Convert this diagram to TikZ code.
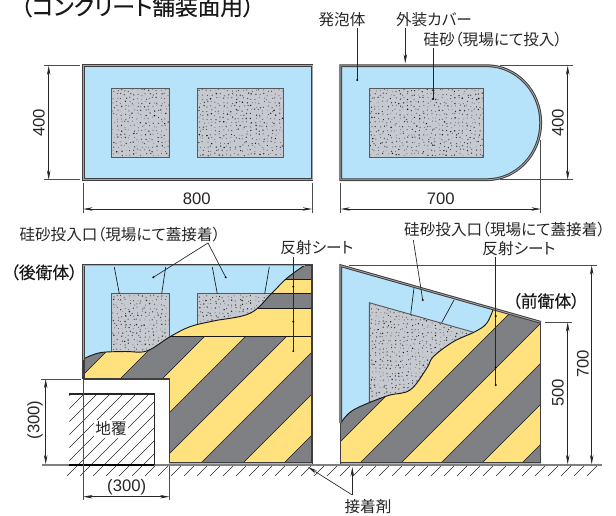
\documentclass[tikz,border=0pt]{standalone}
\usepackage{fontspec}
\setmainfont[RawFeature=+palt]{Noto Sans CJK JP}
\newfontfamily\numfont{Liberation Sans}
\newfontfamily\medfont[FakeBold=0.3,RawFeature=+palt]{Noto Sans CJK JP}
\usetikzlibrary{arrows.meta}
\definecolor{foamblue}{HTML}{B6E3F9}
\definecolor{sheetyellow}{HTML}{FFE17E}
\definecolor{sheetgray}{HTML}{7F8084}
\definecolor{sandgray}{HTML}{C6CAD0}
\definecolor{casedark}{HTML}{3E3E40}
\definecolor{gluecolor}{HTML}{A9B4D6}
\tikzset{
	dimline/.style={draw=black!85,line width=0.5pt,{Stealth[length=7pt,width=2.6pt]}-{Stealth[length=7pt,width=2.6pt]}},
	extline/.style={draw=black!70,line width=0.5pt},
	leader/.style={draw=black!85,line width=0.5pt},
	edgeline/.style={draw=black!90,line width=0.5pt},
	sandedge/.style={draw=black!65,line width=0.7pt},
	label/.style={inner sep=0pt,font=\fontsize{11.7}{11.7}\selectfont,text=black!85},
	numlabel/.style={inner sep=0pt,font=\numfont\fontsize{12.5}{12.5}\selectfont,text=black!85},
	bodylabel/.style={inner sep=0pt,font=\medfont\fontsize{12.6}{12.6}\selectfont,text=black!90}
}
% dots of the sand: corners of the box, then the seed
\newcommand\Sand[5]{
	\pgfmathsetseed{#5}
	\foreach \xa in {#1,\numexpr#1+4\relax,...,#3}
	\foreach \ya in {#2,\numexpr#2+4\relax,...,#4}
	{
		\pgfmathsetmacro\jx{\xa+2.8*rnd}
		\pgfmathsetmacro\jy{\ya+2.8*rnd}
		\pgfmathsetmacro\jr{0.4+0.45*rnd}
		\pgfmathsetmacro\jc{45+50*rnd}
		\fill[black!\jc] (\jx,\jy) circle[radius=\jr*0.75pt];
	}
}
\def\RearWave{plot[smooth,tension=0.6] coordinates {(83.3,359) (100,352.7) (125,351.5) (146.7,351) (170,336.7) (190,326.7) (213.3,321) (250,313.3) (271.7,293.3) (286.7,278.3) (305,265)}}
\def\FrontWave{plot[smooth,tension=0.6] coordinates {(340.7,423.3) (353.3,410) (386.7,396) (410,390) (426.7,368.3) (433.3,356.7) (453.3,341.7) (475,331.7) (486.7,323.3) (493.3,309)}}

\begin{document}
\begin{tikzpicture}[x=0.75pt,y=-0.75pt]
	\useasboundingbox (0,0) rectangle (616,515);
	
	% we fix the corners that the dimensions hang on
	\coordinate (planAnw) at (83.3,65.7);
	\coordinate (planAsw) at (83.3,179.7);
	\coordinate (planAne) at (312,65.7);
	\coordinate (planAse) at (312,179.7);
	\coordinate (planBnw) at (340.7,65.7);
	\coordinate (planBsw) at (340.7,179.7);
	\coordinate (planBe) at (540.7,122.7);
	
	% we draw the two plan views on top
	\draw[fill=foamblue,draw=casedark,line width=2.1pt] (planAnw) rectangle (planAse);
	\draw[draw=gray!70,line width=0.6pt] (planAnw) rectangle (planAse);
	\fill[sandgray] (111.7,88) rectangle (169.3,157);
	\fill[sandgray] (197.3,88) rectangle (283.7,157);
	\begin{scope}
		\clip (112.5,89) rectangle (168.5,156);
		\Sand{112}{89}{168}{156}{11}
	\end{scope}
	\begin{scope}
		\clip (198,89) rectangle (283,156);
		\Sand{198}{89}{283}{156}{12}
	\end{scope}
	\draw[sandedge] (111.7,88) rectangle (169.3,157);
	\draw[sandedge] (197.3,88) rectangle (283.7,157);
	
	\draw[fill=foamblue,draw=casedark,line width=2.1pt] (planBnw) -- (486.7,65.7)
	.. controls (516.5,65.7) and (540.7,91.2) .. (planBe)
	.. controls (540.7,154.2) and (516.5,179.7) .. (486.7,179.7) -- (planBsw) -- cycle;
	\draw[draw=gray!70,line width=0.6pt] (planBnw) -- (486.7,65.7)
	.. controls (516.5,65.7) and (540.7,91.2) .. (planBe)
	.. controls (540.7,154.2) and (516.5,179.7) .. (486.7,179.7) -- (planBsw) -- cycle;
	\fill[sandgray] (369.3,88) rectangle (483.7,157);
	\begin{scope}
		\clip (370,89) rectangle (483,156);
		\Sand{370}{89}{483}{156}{13}
	\end{scope}
	\draw[sandedge] (369.3,88) rectangle (483.7,157);
	
	% the rear body: foam, sand and the openings
	\fill[foamblue] (83.3,265) rectangle (312,379);
	\fill[sandgray] (111.7,293.7) rectangle (169.3,355);
	\fill[sandgray] (197.3,293.7) rectangle (283.7,330);
	\begin{scope}
		\clip (112.5,294.5) rectangle (168.5,355);
		\Sand{112}{295}{168}{355}{14}
	\end{scope}
	\begin{scope}
		\clip (198,294.5) rectangle (283,330);
		\Sand{198}{295}{283}{330}{15}
	\end{scope}
	\draw[sandedge] (111.7,355) -- (111.7,293.7) -- (169.3,293.7) -- (169.3,345);
	\draw[sandedge] (197.3,335) -- (197.3,293.7) -- (283.7,293.7);
	\foreach \xa/\xb in {114.3/119.3,165.7/161.7,212.3/217.3,269.3/264.7}
	\draw[edgeline] (\xa,267) -- (\xb,293.7);
	
	% the striped sheet of the rear body
	\begin{scope}
		\clip \RearWave -- (312,265) -- (312,464.3) -- (169.3,464.3) -- (169.3,379) -- (83.3,379) -- cycle;
		\fill[sheetyellow] (80,260) rectangle (315,470);
		\foreach \sa/\sb in {300/458,499/541,582/623,664/706,747/900}
		\fill[sheetgray] ({\sa-260},260) -- ({\sa-470},470) -- ({\sb-470},470) -- ({\sb-260},260) -- cycle;
		\foreach \sa in {458,499,541,582,623,664,706,747}
		\draw[edgeline] ({\sa-260},260) -- ({\sa-470},470);
		% the part of the sheet that is folded flat
		\fill[sheetyellow] (165,265) rectangle (315,336.7);
		\fill[sheetgray] (165,265) rectangle (315,279.3);
		\fill[sheetgray] (165,293.7) rectangle (315,308);
		\foreach \ya in {279.3,293.7,308,336.7}
		\draw[edgeline] (165,\ya) -- (315,\ya);
	\end{scope}
	\draw[edgeline,line width=0.7pt] \RearWave;
	
	% the outline of the rear body
	\draw[casedark,line width=2.1pt] (83.3,379) -- (83.3,265) -- (305,265);
	\draw[gray!70,line width=0.6pt] (83.3,360) -- (83.3,265) -- (305,265);
	\draw[casedark,line width=0.9pt] (83.3,379) -- (169.3,379) -- (169.3,464.3);
	\draw[casedark,line width=0.9pt] (305,265) -- (312,265) -- (312,464.3);
	
	% the front body: foam, sand and the openings
	\fill[foamblue] (340.7,265.7) -- (540.7,322.3) -- (540.7,430) -- (340.7,430) -- cycle;
	\fill[sandgray] (369.3,302.7) -- (485,335.5) -- (485,410) -- (369.3,410) -- cycle;
	\begin{scope}
		\clip (369.8,303.5) -- (485,336.3) -- (485,410) -- (369.8,410) -- cycle;
		\Sand{370}{303}{485}{410}{16}
	\end{scope}
	\draw[sandedge] (369.3,410) -- (369.3,302.7) -- (485,335.5);
	\draw[edgeline] (414,287.7) -- (410.7,314.3);
	\draw[edgeline] (454,300) -- (441.7,322.7);
	
	% the striped sheet of the front body
	\begin{scope}
		\clip \FrontWave -- (540.7,322.3) -- (540.7,464.3) -- (340.7,464.3) -- cycle;
		\fill[sheetyellow] (335,260) rectangle (545,470);
		\foreach \sa/\sb in {600/782,823/864,904/945,985/1100}
		\fill[sheetgray] ({\sa-260},260) -- ({\sa-470},470) -- ({\sb-470},470) -- ({\sb-260},260) -- cycle;
		\foreach \sa in {782,823,864,904,945,985}
		\draw[edgeline] ({\sa-260},260) -- ({\sa-470},470);
	\end{scope}
	\draw[edgeline,line width=0.7pt] \FrontWave;
	
	% the outline of the front body
	\draw[casedark,line width=2.1pt] (340.7,423) -- (340.7,265.7) -- (540.7,322.3);
	\draw[gray!70,line width=0.6pt] (340.7,423) -- (340.7,265.7) -- (540.7,322.3);
	\draw[casedark,line width=0.9pt] (340.7,423) -- (340.7,464.3);
	\draw[casedark,line width=0.9pt] (540.7,322.3) -- (540.7,464.3);
	
	% the glue under both bodies
	\fill[gluecolor] (169.3,462.3) rectangle (312,464.6);
	\fill[gluecolor] (340.7,462.3) rectangle (540.7,464.6);
	\draw[casedark,line width=0.4pt] (169.3,462.3) -- (312,462.3);
	\draw[casedark,line width=0.4pt] (340.7,462.3) -- (540.7,462.3);
	
	% we draw the ground and its hatching
	\draw[gray,line width=0.8pt] (41.7,465) -- (601.7,465);
	\foreach \xa in {77,90,...,600}
	\draw[black!85,line width=0.45pt] (\xa,466) -- ++(-10,10);
	
	% the block of the curb
	\begin{scope}
		\clip (69.3,394) rectangle (154.3,465);
		\foreach \sa in {465,478,...,630}
		\draw[black!85,line width=0.45pt] ({\sa-390},390) -- ({\sa-470},470);
	\end{scope}
	\draw[black!85,line width=0.8pt] (69.3,394) -- (154.3,394) -- (154.3,465);
	\draw[black,line width=1.2pt] (69.3,465) -- (154.3,465);
	\node[label,fill=white,inner sep=1pt] (curb) at (111,429) {地覆};
	
	% the dimensions of the plan views
	\draw[extline] (44,65.7) -- (80,65.7);
	\draw[extline] (44,179.7) -- (80,179.7);
	\draw[extline] (planAsw)++(0,3) -- ++(0,30);
	\draw[extline] (planAse)++(0,3) -- ++(0,30);
	\draw[extline] (planBsw)++(0,3) -- ++(0,30);
	\draw[extline] (540.7,140) -- (540.7,213);
	\draw[extline] (500,65.7) -- (573,65.7);
	\draw[extline] (500,179.7) -- (573,179.7);
	\coordinate (dimAt) at (48.7,65.7);
	\coordinate (dimAb) at (48.7,179.7);
	\coordinate (dimAl) at (83.3,209);
	\coordinate (dimAr) at (312,209);
	\coordinate (dimBl) at (340.7,209);
	\coordinate (dimBr) at (540.7,209);
	\coordinate (dimBt) at (567.7,65.7);
	\coordinate (dimBb) at (567.7,179.7);
	\draw[dimline] (dimAt) -- (dimAb);
	\draw[dimline] (dimAl) -- (dimAr);
	\draw[dimline] (dimBl) -- (dimBr);
	\draw[dimline] (dimBt) -- (dimBb);
	\node[numlabel,rotate=90] (hA) at (39,122.7) {400};
	\node[numlabel] (wA) at (196.7,199) {800};
	\node[numlabel] (wB) at (440.7,199) {700};
	\node[numlabel,rotate=90] (hB) at (558,122.7) {400};
	
	% the dimensions of the side views
	\draw[extline] (41,379) -- (81,379);
	\draw[extline] (83.3,379) -- (83.3,500);
	\draw[extline] (169.3,466) -- (169.3,500);
	\draw[extline] (349,265.3) -- (596.7,265.3);
	\draw[extline] (545,322.3) -- (572,322.3);
	\coordinate (dimCt) at (45.7,379);
	\coordinate (dimCb) at (45.7,464.3);
	\coordinate (dimCl) at (83.3,496.7);
	\coordinate (dimCr) at (169.3,496.7);
	\coordinate (dimDt) at (567.7,322.3);
	\coordinate (dimDb) at (567.7,464.3);
	\coordinate (dimEt) at (591.7,265.3);
	\coordinate (dimEb) at (591.7,464.3);
	\draw[dimline] (dimCt) -- (dimCb);
	\draw[dimline] (dimCl) -- (dimCr);
	\draw[dimline] (dimDt) -- (dimDb);
	\draw[dimline] (dimEt) -- (dimEb);
	\node[numlabel,rotate=90] (hC) at (35,420) {(300)};
	\node[numlabel] (wC) at (126.7,487) {(300)};
	\node[numlabel,rotate=90] (hD) at (558,393) {500};
	\node[numlabel,rotate=90] (hE) at (583,364) {700};
	
	% we place the labels and their leaders
	\node[inner sep=0pt,font=\medfont\fontsize{17}{17}\selectfont,text=black!90] (title) at (137.5,6.5) {（コンクリート舗装面用）};
	\node[label] (foam) at (342,20) {発泡体};
	\node[label] (cover) at (434,20) {外装カバー};
	\node[label] (sand) at (493,40) {硅砂（現場にて投入）};
	\node[label] (openA) at (120,235) {硅砂投入口（現場にて蓋接着）};
	\node[label] (sheetA) at (317,248) {反射シート};
	\node[label] (openB) at (504.7,230) {硅砂投入口（現場にて蓋接着）};
	\node[label] (sheetB) at (519,248.3) {反射シート};
	\node[label] (glue) at (368,506.7) {接着剤};
	\node[bodylabel] (rear) at (44,272.3) {（後衛体）};
	\node[bodylabel] (front) at (546,301) {（前衛体）};
	
	\coordinate (foamtop) at (357.3,28.3);
	\coordinate (foamdot) at (357.3,80);
	\coordinate (covertop) at (405.3,28.3);
	\coordinate (coverend) at (405.3,63.5);
	\coordinate (sandtop) at (433,48);
	\coordinate (sanddot) at (433,99);
	\coordinate (openAtop) at (208,243);
	\coordinate (openAdot) at (153.3,277.3);
	\coordinate (openAdotb) at (225.7,277.3);
	\coordinate (sheetAtop) at (293.3,256.7);
	\coordinate (sheetAdot) at (293.3,351);
	\coordinate (openBtop) at (413.3,240);
	\coordinate (openBdot) at (422.7,300);
	\coordinate (sheetBtop) at (495.7,256.7);
	\coordinate (sheetBdot) at (495.7,385);
	\coordinate (gluetop) at (352.3,495);
	\coordinate (glueA) at (308,467);
	\coordinate (glueB) at (352.3,467);
	
	\draw[leader] (foamtop) -- (foamdot);
	\draw[leader,-{Stealth[length=7pt,width=2.6pt]}] (covertop) -- (coverend);
	\draw[leader] (sandtop) -- (sanddot);
	\draw[leader] (openAtop) -- (openAdot);
	\draw[leader] (openAtop) -- (openAdotb);
	\draw[leader] (sheetAtop) -- (sheetAdot);
	\draw[leader] (openBtop) -- (openBdot);
	\draw[leader] (sheetBtop) -- (sheetBdot);
	\draw[leader,-{Stealth[length=7pt,width=2.6pt]}] (gluetop) -- (glueA);
	\draw[leader,-{Stealth[length=7pt,width=2.6pt]}] (gluetop) -- (glueB);
	
	% we draw the small dots at the ends of the leaders
	\foreach \coor in {foamdot,sanddot,openAdot,openAdotb,sheetAdot,openBdot,sheetBdot}
	\fill[black] (\coor) circle[radius=0.8pt];
	\foreach \ya in {286.7,321.7}
	\fill[black] (293.3,\ya) circle[radius=0.8pt];
	\foreach \ya in {316,367.7}
	\fill[black] (495.7,\ya) circle[radius=0.8pt];
\end{tikzpicture}
\end{document}
